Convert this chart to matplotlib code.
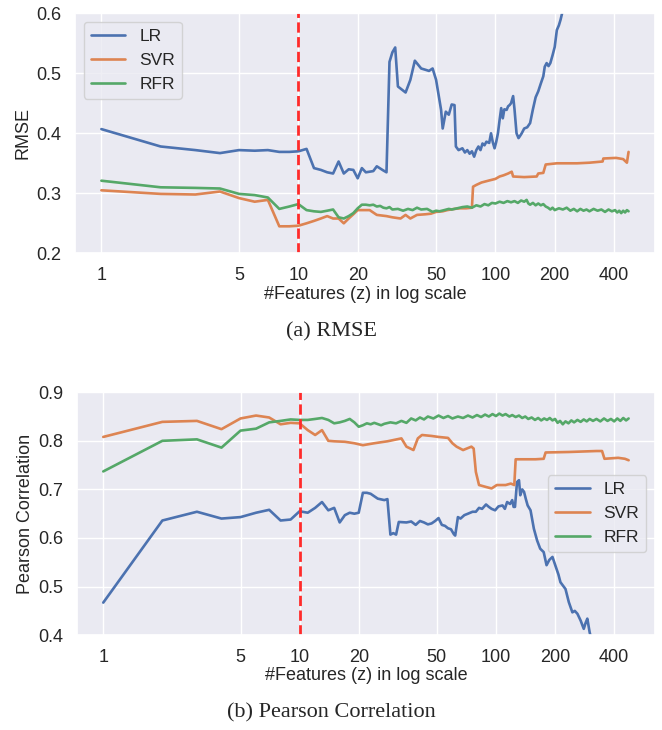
import matplotlib
matplotlib.use("Agg")
import matplotlib.pyplot as plt
from matplotlib.ticker import NullLocator
import seaborn as sns

# ---- data ----
tick_vals = [1, 5, 10, 20, 50, 100, 200, 400]
tick_labels = ["1", "5", "10", "20", "50", "100", "200", "400"]
best_z = 10

# RMSE
rmse_lr_x = [1, 2, 3, 4, 5, 6, 7, 8, 9, 10, 11, 12, 13, 14, 15, 16, 17, 18, 19, 20,
             21, 22, 24, 25, 27, 28, 29, 30, 31, 32, 35, 37, 39, 42, 44, 46, 48, 50,
             53, 54, 56, 58, 60, 62, 63, 65, 68, 70, 72, 74, 76, 78, 80, 82, 84, 86,
             88, 90, 93, 95, 97, 99, 101, 103, 105, 107, 109, 111, 114, 116, 118, 120,
             123, 125, 128, 131, 133, 136, 140, 145, 150, 155, 160, 165, 170, 175, 178,
             182, 186, 190, 195, 200, 205, 210, 214, 218, 222]
rmse_lr_y = [.407, .378, .372, .367, .372, .371, .372, .369, .369, .370, .374, .342, .339,
             .335, .333, .353, .333, .340, .339, .325, .342, .335, .337, .345, .338, .335,
             .519, .535, .543, .478, .468, .489, .521, .508, .506, .504, .508, .489, .439,
             .408, .436, .431, .448, .447, .378, .372, .375, .368, .372, .366, .370, .361,
             .372, .378, .372, .383, .380, .386, .384, .400, .385, .375, .386, .400, .422,
             .442, .425, .440, .439, .445, .447, .450, .462, .440, .400, .392, .395, .400,
             .408, .410, .417, .440, .460, .470, .483, .495, .511, .517, .512, .517, .530,
             .544, .572, .580, .589, .600, .620]

rmse_svr_x = [1, 2, 3, 4, 5, 6, 7, 8, 9, 10, 11, 12, 13, 14, 15, 16, 17, 18, 19, 20, 22,
              23, 25, 28, 30, 33, 35, 37, 40, 44, 47, 50, 54, 57, 62, 66, 71, 76, 77, 80,
              85, 92, 100, 105, 110, 116, 121, 123, 140, 162, 165, 175, 180, 205, 260,
              300, 350, 353, 410, 445, 465, 474]
rmse_svr_y = [.305, .299, .298, .303, .292, .286, .289, .245, .245, .246, .250, .254, .258,
              .262, .258, .258, .250, .258, .265, .272, .272, .272, .264, .262, .260, .258,
              .264, .258, .264, .265, .266, .269, .270, .272, .274, .275, .275, .276, .311,
              .314, .318, .321, .324, .328, .330, .333, .336, .328, .327, .328, .333, .334,
              .348, .350, .350, .351, .353, .358, .359, .357, .351, .369]

rmse_rfr_x = [1, 2, 3, 4, 5, 6, 7, 8, 9, 10, 11, 12, 13, 14, 15, 16, 17, 18, 19, 20, 21,
              22, 23, 24, 25, 26, 27, 28, 29, 30, 32, 34, 36, 38, 40, 42, 45, 48, 50, 52,
              55, 58, 60, 64, 68, 72, 76, 80, 84, 88, 92, 96, 100, 105, 110, 115, 120,
              125, 130, 135, 140, 144, 147, 150, 155, 160, 165, 170, 175, 180, 185, 190,
              195, 200, 210, 220, 230, 240, 250, 260, 270, 280, 290, 300, 315, 330, 345,
              360, 375, 390, 405, 415, 425, 435, 445, 455, 465, 474]
rmse_rfr_y = [.321, .310, .309, .308, .299, .297, .293, .274, .278, .282, .272, .270, .269,
              .271, .273, .260, .258, .262, .267, .275, .281, .281, .280, .281, .278, .279,
              .276, .275, .277, .273, .274, .271, .274, .272, .276, .273, .274, .269, .271,
              .270, .272, .274, .273, .275, .277, .278, .276, .280, .278, .282, .280, .284,
              .283, .286, .284, .287, .285, .287, .284, .288, .286, .289, .283, .281, .284,
              .280, .283, .280, .282, .278, .276, .273, .276, .272, .275, .273, .276, .271,
              .274, .270, .274, .271, .273, .270, .274, .271, .273, .269, .273, .270, .272,
              .268, .271, .267, .271, .268, .272, .270]

# Pearson correlation
pc_lr_x = [1, 2, 3, 4, 5, 6, 7, 8, 9, 10, 11, 12, 13, 14, 15, 16, 17, 18, 19, 20, 21, 22,
           23, 25, 27, 28, 29, 30, 31, 32, 35, 37, 39, 41, 43, 45, 47, 49, 51, 53, 55, 57,
           59, 61, 62, 64, 66, 69, 72, 76, 79, 82, 85, 89, 92, 95, 99, 103, 108, 111, 114,
           118, 121, 123, 125, 128, 131, 133, 136, 139, 142, 145, 150, 156, 162, 168, 175,
           181, 187, 194, 202, 208, 213, 226, 235, 245, 252, 260, 270, 280, 286, 292, 300,
           306, 312]
pc_lr_y = [.467, .636, .654, .640, .643, .652, .658, .636, .638, .655, .652, .662, .674,
           .657, .662, .632, .647, .652, .650, .652, .693, .693, .691, .681, .678, .680,
           .607, .610, .607, .633, .632, .634, .627, .635, .632, .628, .630, .635, .641,
           .627, .625, .620, .618, .608, .605, .643, .640, .647, .650, .654, .654, .662,
           .660, .669, .664, .660, .657, .665, .667, .660, .674, .670, .678, .664, .664,
           .715, .719, .688, .700, .695, .680, .667, .657, .619, .595, .578, .571, .544,
           .555, .561, .540, .525, .509, .495, .468, .447, .450, .444, .430, .413, .425,
           .434, .406, .392, .380]

pc_svr_x = [1, 2, 3, 4, 5, 6, 7, 8, 9, 10, 11, 12, 13, 14, 15, 17, 19, 21, 24, 28, 33,
            35, 38, 40, 42, 47, 51, 57, 60, 63, 68, 75, 77, 79, 82, 89, 95, 101, 112,
            119, 124, 126, 159, 175, 179, 235, 325, 347, 357, 419, 454, 474]
pc_svr_y = [.808, .839, .841, .824, .846, .852, .848, .834, .837, .836, .822, .812, .822,
            .800, .799, .798, .795, .791, .795, .799, .805, .788, .781, .805, .812, .810,
            .808, .806, .795, .788, .781, .788, .784, .736, .709, .705, .702, .709, .709,
            .712, .709, .762, .762, .763, .776, .777, .779, .779, .763, .765, .763, .760]

pc_rfr_x = [1, 2, 3, 4, 5, 6, 7, 8, 9, 10, 11, 12, 13, 14, 15, 16, 17, 18, 19, 20, 21,
            22, 23, 24, 26, 27, 29, 31, 33, 35, 37, 39, 41, 43, 45, 48, 51, 54, 57, 60,
            64, 68, 72, 76, 80, 84, 88, 92, 96, 100, 104, 108, 112, 117, 121, 126, 131,
            136, 141, 146, 152, 158, 164, 170, 176, 182, 188, 194, 200, 206, 212, 219,
            226, 234, 242, 250, 260, 270, 280, 290, 300, 312, 325, 340, 355, 370, 385,
            400, 415, 430, 445, 460, 474]
pc_rfr_y = [.737, .800, .803, .786, .821, .825, .838, .841, .844, .843, .843, .845, .847,
            .843, .836, .838, .841, .845, .838, .829, .832, .836, .834, .837, .832, .835,
            .838, .836, .841, .837, .846, .842, .848, .844, .850, .846, .852, .847, .851,
            .846, .850, .847, .852, .848, .853, .849, .854, .850, .855, .851, .856, .852,
            .855, .850, .853, .849, .852, .847, .850, .845, .848, .843, .847, .842, .846,
            .843, .847, .842, .845, .837, .841, .834, .840, .836, .842, .838, .843, .839,
            .844, .840, .845, .841, .845, .840, .846, .841, .845, .840, .846, .841, .847,
            .842, .846]

models = ["LR", "SVR", "RFR"]
colors = ["#4C72B0", "#DD8452", "#55A868"]

sns.set_theme(style="darkgrid")
plt.rcParams["font.family"] = ["Liberation Sans", "DejaVu Sans"]

fig = plt.figure(figsize=(6.62, 7.30), dpi=100)
ax1 = fig.add_axes([0.1133, 0.653, 0.876, 0.3288])
ax2 = fig.add_axes([0.1163, 0.1299, 0.873, 0.3328])

top_series = [(rmse_lr_x, rmse_lr_y), (rmse_svr_x, rmse_svr_y), (rmse_rfr_x, rmse_rfr_y)]
bot_series = [(pc_lr_x, pc_lr_y), (pc_svr_x, pc_svr_y), (pc_rfr_x, pc_rfr_y)]

for ax, series in [(ax1, top_series), (ax2, bot_series)]:
    for (xs, ys), name, c in zip(series, models, colors):
        ax.plot(xs, ys, color=c, lw=1.9, label=name)
    ax.axvline(best_z, color="#ff2b2b", ls="--", lw=2)
    ax.set_xscale("log")
    ax.set_xticks(tick_vals)
    ax.set_xticklabels(tick_labels)
    ax.xaxis.set_minor_locator(NullLocator())
    ax.tick_params(labelsize=13, pad=4)
    ax.set_xlabel("#Features (z) in log scale", fontsize=13, labelpad=1)

ax1.set_ylim(0.2, 0.6)
ax1.set_yticks([0.2, 0.3, 0.4, 0.5, 0.6])
ax1.set_ylabel("RMSE", fontsize=13, labelpad=3)
ax1.legend(loc="upper left", fontsize=12.5)

ax2.set_ylim(0.4, 0.9)
ax2.set_yticks([0.4, 0.5, 0.6, 0.7, 0.8, 0.9])
ax2.set_ylabel("Pearson Correlation", fontsize=13, labelpad=3)
ax2.legend(loc="center right", fontsize=12.5)

fig.text(0.5, 1 - 332 / 730, "(a) RMSE", ha="center", va="center",
         family="Liberation Serif", fontsize=16)
fig.text(0.5, 1 - 713 / 730, "(b) Pearson Correlation", ha="center", va="center",
         family="Liberation Serif", fontsize=16)

fig.savefig("out.png", dpi=100, facecolor="white")
